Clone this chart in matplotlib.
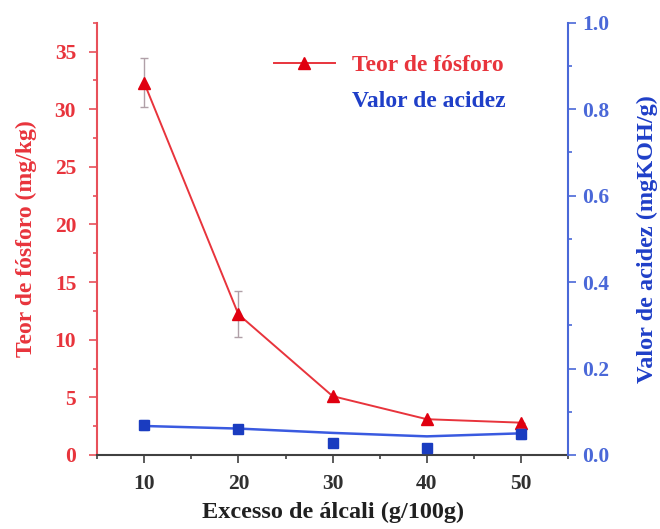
import matplotlib.pyplot as plt
from matplotlib.lines import Line2D
from matplotlib.ticker import MultipleLocator

plt.rcParams['font.family'] = ['Liberation Serif', 'DejaVu Serif']
plt.rcParams['font.weight'] = 'bold'

# data -----------------------------------------------------------------------
excesso = [10, 20, 30, 40, 50]
fosforo = [32.3, 12.2, 5.1, 3.1, 2.8]
fosforo_err = [2.1, 2.0, 0.0, 0.0, 0.0]
acidez = [0.069, 0.061, 0.028, 0.017, 0.048]
acidez_err = [0.012, 0.0, 0.0, 0.0, 0.012]
acidez_fit = [0.067, 0.061, 0.051, 0.043, 0.050]

red = '#e8343c'
red_axis = '#e8505a'
blue = '#1f3fc8'
blue_axis = '#4a68d8'

fig = plt.figure(figsize=(6.6, 5.29), dpi=100)
ax = fig.add_axes([0.147, 0.14, 0.714, 0.817])
ax2 = ax.twinx()

# phosphorus content (left axis)
ax.errorbar(excesso, fosforo, yerr=fosforo_err, fmt='none', ecolor='#b0a0a8',
            elinewidth=1, capsize=3, capthick=1, zorder=2)
ax.plot(excesso, fosforo, color=red, lw=1.4, zorder=3)
ax.plot(excesso, fosforo, ls='none', marker='^', ms=9, color='#e00010', zorder=4)

# acid value (right axis)
ax2.errorbar(excesso, acidez, yerr=acidez_err, fmt='none', ecolor='#a0b0e8',
             elinewidth=1, capsize=3, capthick=1, zorder=2)
ax2.plot(excesso, acidez_fit, color='#3a5ae0', lw=1.8, zorder=3)
ax2.plot(excesso, acidez, ls='none', marker='s', ms=6.5, color='#1a3cc0', zorder=4)

ax.set_xlim(5, 55)
ax.set_ylim(0, 37.5)
ax2.set_ylim(0, 1.0)

ax.xaxis.set_major_locator(MultipleLocator(10))
ax.xaxis.set_minor_locator(MultipleLocator(5))
ax.yaxis.set_major_locator(MultipleLocator(5))
ax.yaxis.set_minor_locator(MultipleLocator(2.5))
ax2.yaxis.set_major_locator(MultipleLocator(0.2))
ax2.yaxis.set_minor_locator(MultipleLocator(0.1))
ax2.yaxis.set_major_formatter(plt.FormatStrFormatter('%.1f'))

for a in (ax, ax2):
    a.spines['top'].set_visible(False)
    a.patch.set_visible(False)
ax.spines['right'].set_visible(False)
ax2.spines['left'].set_visible(False)
ax2.spines['bottom'].set_visible(False)

ax.spines['left'].set_color(red_axis)
ax.spines['left'].set_linewidth(1.5)
ax.spines['bottom'].set_color('#404040')
ax.spines['bottom'].set_linewidth(1.5)
ax2.spines['right'].set_color(blue_axis)
ax2.spines['right'].set_linewidth(1.5)

ax.tick_params(axis='x', which='major', length=6, width=1.2, colors='#404040',
               labelsize=15.5, labelcolor='#303030', pad=8)
ax.tick_params(axis='x', which='minor', length=3, width=1.2, colors='#404040')
ax.tick_params(axis='y', which='major', length=6, width=1.2, colors=red_axis,
               labelsize=15.5, labelcolor=red, pad=9)
ax.tick_params(axis='y', which='minor', length=3, width=1.2, colors=red_axis)
ax2.tick_params(axis='y', which='major', length=6, width=1.2, colors=blue_axis,
                labelsize=15.5, labelcolor=blue_axis, pad=4)
ax2.tick_params(axis='y', which='minor', length=3, width=1.2, colors=blue_axis)

ax.set_xlabel('Excesso de álcali (g/100g)', fontsize=17.5, color='#202020',
              fontweight='bold', labelpad=5)
ax.set_ylabel('Teor de fósforo (mg/kg)', fontsize=17, color=red,
              fontweight='bold', labelpad=13)
ax2.set_ylabel('Valor de acidez (mgKOH/g)', fontsize=17.5, color=blue,
               fontweight='bold', labelpad=20)

handles = [Line2D([], [], color=red, lw=1.4, marker='^', ms=8, mfc='#e00010',
                  mec='#e00010'),
           Line2D([], [], color='none')]
leg = ax.legend(handles, ['Teor de fósforo', 'Valor de acidez'],
                loc='upper left', bbox_to_anchor=(0.33, 0.975), frameon=False,
                fontsize=17, handlelength=2.6, handletextpad=0.7,
                labelspacing=0.6)
leg.get_texts()[0].set_color(red)
leg.get_texts()[1].set_color(blue)

fig.savefig('out.png', dpi=100)
